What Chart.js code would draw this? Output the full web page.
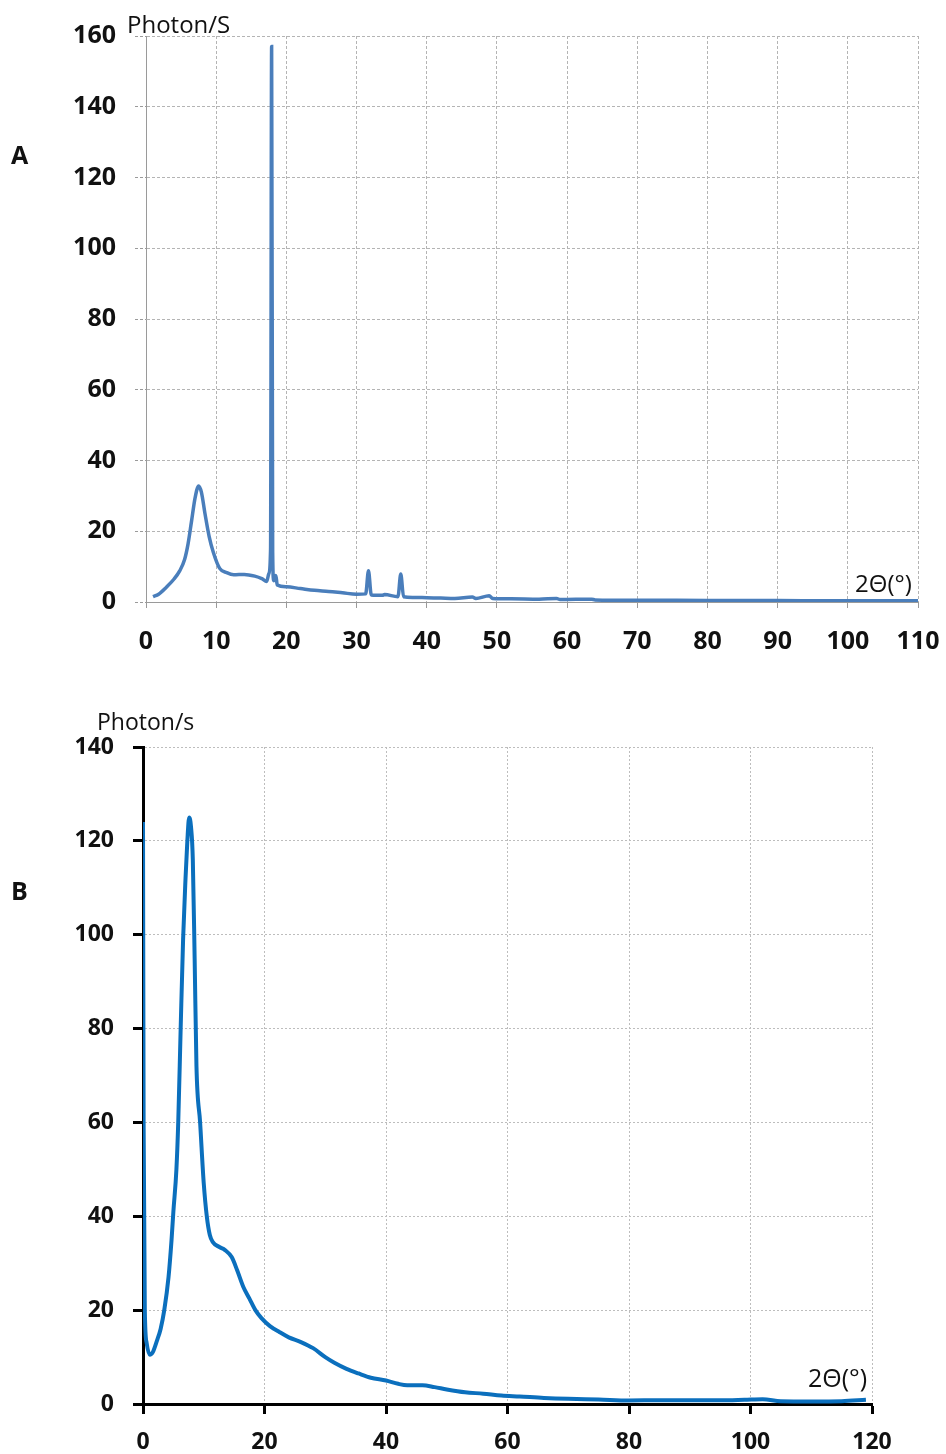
<!DOCTYPE html>
<html>
<head>
<meta charset="utf-8">
<script src="https://cdn.jsdelivr.net/npm/chart.js@4/dist/chart.umd.min.js"></script>
<style>
  body { margin: 0; background: #fff; }
  #wrap { position: relative; width: 946px; height: 1454px; font-family: 'Open Sans', sans-serif; color: #111; }
  canvas { position: absolute; left: 0; }
  .lbl { position: absolute; line-height: 1; white-space: nowrap; }
</style>
</head>
<body>
<div id="wrap">
  <canvas id="chartA" width="946" height="672" style="top:0"></canvas>
  <canvas id="chartB" width="946" height="774" style="top:680px"></canvas>

  <div class="lbl" style="left:11px; top:142px; font-size:25px; font-weight:700">A</div>
  <div class="lbl" style="left:127px; top:12px; font-size:24px">Photon/S</div>
  <div class="lbl" style="left:855px; top:571px; font-size:24px">2Θ(°)</div>

  <div class="lbl" style="left:11px; top:878px; font-size:25px; font-weight:700">B</div>
  <div class="lbl" style="left:97px; top:710px; font-size:23px">Photon/s</div>
  <div class="lbl" style="left:808px; top:1365px; font-size:25px">2Θ(°)</div>
</div>

<script>
// panel A - sharp crystalline pattern
const angleA = [1.0, 1.8, 2.9, 4.0, 4.8, 5.5, 6.0, 6.5, 7.0, 7.5, 7.9, 8.4, 9.0, 9.6, 10.5, 11.5, 12.5, 14.0, 15.5, 16.5, 17.2, 17.5, 17.75, 17.9, 18.05, 18.2, 18.5, 18.7, 20, 22, 24, 26, 28, 30, 31.3, 31.7, 32.1, 33.7, 34.0, 35.9, 36.3, 36.7, 38, 40, 42, 44, 46.5, 47, 48.9, 49.4, 52, 56, 58.5, 59, 63.5, 64, 70, 80, 90, 100, 110];
const countsA = [1.5, 2.2, 4.2, 6.5, 8.8, 12, 16.5, 23, 29.5, 32.8, 31, 25, 18.5, 14, 9.5, 8.3, 7.7, 7.8, 7.3, 6.6, 5.8, 8, 15, 157, 14, 6, 7.5, 4.8, 4.3, 3.8, 3.3, 3.0, 2.6, 2.2, 2.3, 8.8, 2.0, 1.9, 2.1, 1.5, 7.9, 1.5, 1.3, 1.2, 1.1, 1.0, 1.4, 1.0, 1.8, 1.0, 0.9, 0.8, 1.0, 0.7, 0.8, 0.6, 0.5, 0.45, 0.4, 0.35, 0.35];
const ticksA_x = [0, 110, 10];
const ticksA_y = [0, 160, 20];

// panel B - broad amorphous pattern
const angleB = [0, 0.1, 0.3, 0.6, 1.1, 1.6, 2.3, 2.9, 3.5, 4.2, 4.7, 5.0, 5.5, 5.8, 6.2, 6.6, 7.0, 7.3, 7.6, 7.9, 8.2, 8.5, 8.8, 9.4, 10.0, 10.5, 11.0, 11.5, 12.5, 13.5, 14.6, 15.5, 16.5, 17.5, 18.5, 19.5, 20.9, 22.5, 24, 26, 28, 30, 31.5, 33.5, 35.5, 37.5, 40, 42, 43.5, 46, 48, 50, 53, 56, 59, 62, 66, 70, 75, 80, 85, 90, 95, 99, 102, 105, 110, 115, 119];
const countsB = [124, 60, 20, 13, 10.5, 11, 13.5, 16, 20, 27, 35, 41, 50, 60, 80, 99, 112, 120, 125, 123, 116, 95, 72, 60, 47, 40, 36, 34.5, 33.5, 32.8, 31.3, 28.5, 25, 22.5, 20, 18.3, 16.6, 15.3, 14.2, 13.2, 11.9, 10, 8.8, 7.5, 6.5, 5.6, 5.0, 4.3, 4.0, 4.0, 3.6, 3.1, 2.5, 2.2, 1.8, 1.6, 1.3, 1.1, 0.95, 0.75, 0.8, 0.8, 0.8, 0.9, 1.0, 0.6, 0.55, 0.6, 0.9];
const ticksB_x = [0, 120, 20];
const ticksB_y = [0, 140, 20];

const toPoints = (xs, ys) => xs.map((x, i) => ({ x: x, y: ys[i] }));

// fixed axis sizes so the plot areas land where the original has them
const fixHeight = h => s => { s.height = h; s.paddingLeft = 0; s.paddingRight = 0; };
const fixWidth = w => s => { s.width = w; s.paddingTop = 0; s.paddingBottom = 0; };

Chart.defaults.font.family = "'Open Sans', sans-serif";
Chart.defaults.color = '#111';

new Chart(document.getElementById('chartA'), {
    type: 'line',
    data: {
        datasets: [{
            data: toPoints(angleA, countsA),
            borderColor: '#4a7ebb',
            borderWidth: 3.5,
            pointRadius: 0,
            cubicInterpolationMode: 'monotone'
        }]
    },
    options: {
        responsive: false,
        animation: false,
        devicePixelRatio: 1,
        layout: { padding: { top: 36, right: 28, left: 0, bottom: 0 } },
        plugins: { legend: { display: false }, tooltip: { enabled: false } },
        scales: {
            x: {
                type: 'linear',
                min: ticksA_x[0], max: ticksA_x[1],
                afterFit: fixHeight(70),
                ticks: { stepSize: ticksA_x[2], autoSkip: false, maxRotation: 0, padding: 19, font: { size: 25, weight: 'bold' } },
                grid: { color: '#b4b4b4', lineWidth: 1, tickLength: 6, tickColor: '#9a9a9a', tickBorderDash: [] },
                border: { color: '#9a9a9a', width: 1, dash: [3, 2] }
            },
            y: {
                min: ticksA_y[0], max: ticksA_y[1],
                afterFit: fixWidth(146),
                ticks: { stepSize: ticksA_y[2], autoSkip: false, padding: 19, font: { size: 25, weight: 'bold' } },
                grid: { color: '#b4b4b4', lineWidth: 1, tickLength: 11, tickColor: '#9a9a9a', tickBorderDash: [3, 2] },
                border: { color: '#9a9a9a', width: 1, dash: [3, 2] }
            }
        }
    }
});

new Chart(document.getElementById('chartB'), {
    type: 'line',
    data: {
        datasets: [{
            data: toPoints(angleB, countsB),
            borderColor: '#0b6fbd',
            borderWidth: 4,
            pointRadius: 0,
            cubicInterpolationMode: 'monotone'
        }]
    },
    options: {
        responsive: false,
        animation: false,
        devicePixelRatio: 1,
        layout: { padding: { top: 67, right: 74, left: 0, bottom: 0 } },
        plugins: { legend: { display: false }, tooltip: { enabled: false } },
        scales: {
            x: {
                type: 'linear',
                min: ticksB_x[0], max: ticksB_x[1],
                afterFit: fixHeight(50),
                ticks: { stepSize: ticksB_x[2], autoSkip: false, maxRotation: 0, padding: 15, font: { size: 23, weight: 'bold' } },
                grid: { color: '#bdbdbd', lineWidth: 1, tickLength: 10, tickColor: '#000', tickWidth: 3 },
                border: { color: '#000', width: 3, dash: [2, 2] }
            },
            y: {
                min: ticksB_y[0], max: ticksB_y[1],
                afterFit: fixWidth(143),
                ticks: { stepSize: ticksB_y[2], autoSkip: false, padding: 19, font: { size: 23, weight: 'bold' } },
                grid: { color: '#bdbdbd', lineWidth: 1, tickLength: 10, tickColor: '#000', tickWidth: 3 },
                border: { color: '#000', width: 3, dash: [2, 2] }
            }
        }
    }
});
</script>
</body>
</html>
